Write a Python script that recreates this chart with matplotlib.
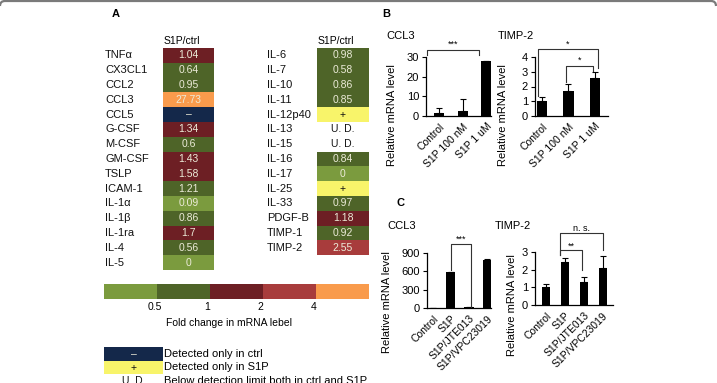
import numpy as np
import matplotlib
matplotlib.use("Agg")
import matplotlib.pyplot as plt
from matplotlib.colors import ListedColormap, BoundaryNorm
from matplotlib.path import Path
from matplotlib.patches import PathPatch

plt.rcParams['font.family'] = ['Liberation Sans', 'DejaVu Sans']

# ---- panel A: fold change S1P/ctrl ----
left_names = ["TNFα", "CX3CL1", "CCL2", "CCL3", "CCL5", "G-CSF", "M-CSF", "GM-CSF",
              "TSLP", "ICAM-1", "IL-1α", "IL-1β", "IL-1ra", "IL-4", "IL-5"]
left_vals = ["1.04", "0.64", "0.95", "27.73", "–", "1.34", "0.6", "1.43",
             "1.58", "1.21", "0.09", "0.86", "1.7", "0.56", "0"]
left_bins = [2, 1, 1, 4, 5, 2, 1, 2, 2, 1, 0, 1, 2, 1, 0]
right_names = ["IL-6", "IL-7", "IL-10", "IL-11", "IL-12p40", "IL-13", "IL-15", "IL-16",
               "IL-17", "IL-25", "IL-33", "PDGF-B", "TIMP-1", "TIMP-2"]
right_vals = ["0.98", "0.58", "0.86", "0.85", "+", "U. D.", "U. D.", "0.84",
              "0", "+", "0.97", "1.18", "0.92", "2.55"]
right_bins = [1, 1, 1, 1, 6, -1, -1, 1, 0, 6, 1, 2, 1, 3]
scale_ticks = ["0.5", "1", "2", "4"]
legend_keys = ["–", "+", "U. D."]
legend_text = ["Detected only in ctrl", "Detected only in S1P",
               "Below detection limit both in ctrl and S1P"]

# ---- panel B ----
b_groups = ["Control", "S1P 100 nM", "S1P 1 uM"]
b_ccl3 = [1.3, 2.5, 27.8]
b_ccl3_err = [2.6, 6.1, 0.4]
b_timp2 = [1.04, 1.72, 2.6]
b_timp2_err = [0.23, 0.43, 0.4]

# ---- panel C ----
c_groups = ["Control", "S1P", "S1P/JTE013", "S1P/VPC23019"]
c_ccl3 = [2, 584, 12, 790]
c_ccl3_err = [1, 8, 3, 6]
c_timp2 = [1.0, 2.45, 1.32, 2.08]
c_timp2_err = [0.17, 0.19, 0.25, 0.69]

COLORS = ["#7b9b3e", "#4e6428", "#6d1f24", "#a83c3c", "#f99b4c", "#14284a", "#f8f46a"]
cmap = ListedColormap(COLORS)
norm = BoundaryNorm(np.arange(-0.5, 7.5, 1), cmap.N)

W, H = 717, 383
fig = plt.figure(figsize=(W / 100, H / 100), dpi=100, facecolor="white")


def ax_px(l, t, r, b):
    return fig.add_axes([l / W, 1 - b / H, (r - l) / W, (b - t) / H])


def ftext(x, y, s, **kw):
    fig.text(x / W, 1 - y / H, s, **kw)


# frame line at the top
verts = [(0, 6), (0, 1), (5, 1), (711, 1), (716, 1), (716, 6)]
codes = [Path.MOVETO, Path.CURVE3, Path.CURVE3, Path.LINETO, Path.CURVE3, Path.CURVE3]
verts = [(x / W, 1 - y / H) for x, y in verts]
fig.add_artist(PathPatch(Path(verts, codes), fc="none", ec="#7a7a7a", lw=1.6,
                         transform=fig.transFigure))

ftext(112, 14, "A", fontsize=8, weight="bold", ha="left", va="center")
ftext(382, 14, "B", fontsize=8, weight="bold", ha="left", va="center")
ftext(397, 203, "C", fontsize=8, weight="bold", ha="left", va="center")


def heat_column(ax, names, vals, bins, label_off):
    n = len(names)
    data = np.ma.masked_less(np.array(bins, dtype=float).reshape(-1, 1), 0)
    ax.pcolormesh(data, cmap=cmap, norm=norm)
    ax.set_xlim(0, 1)
    ax.set_ylim(n, 0)
    ax.axis("off")
    for i in range(n):
        ax.text(-label_off, i + 0.5, names[i], ha="left", va="center", fontsize=8,
                color="#111")
        b = bins[i]
        c = "#111" if b in (-1, 6) else "#ecebd8"
        ax.text(0.5, i + 0.5, vals[i], ha="center", va="center", fontsize=7.5, color=c)
    ax.text(0.37, -0.5, "S1P/ctrl", ha="center", va="center", fontsize=7.5)


axl = ax_px(163, 48, 214, 48 + 14.8 * len(left_names))
heat_column(axl, left_names, left_vals, left_bins, 58 / 51)
axr = ax_px(317, 48, 369, 48 + 14.8 * len(right_names))
heat_column(axr, right_names, right_vals, right_bins, 50 / 52)

# colour scale bar
axs = ax_px(104, 284, 369, 299)
axs.pcolormesh(np.arange(5).reshape(1, -1), cmap=cmap, norm=norm)
axs.set_xlim(0, 5)
axs.axis("off")
for k, t in enumerate(scale_ticks):
    axs.text(k + 1 - 0.05, -0.55, t, ha="center", va="center", fontsize=7.5)
axs.text(2.35, -1.6, "Fold change in mRNA lebel", ha="center", va="center", fontsize=7.5)

# key (third row runs off the bottom edge, as in the original)
axk = ax_px(104, 347, 163, 388)
axk.pcolormesh(np.ma.masked_less(np.array([[5], [6], [-1]], dtype=float), 0),
               cmap=cmap, norm=norm)
axk.set_xlim(0, 1)
axk.set_ylim(3, 0)
axk.axis("off")
for i, (k, t) in enumerate(zip(legend_keys, legend_text)):
    axk.text(0.5, i + 0.5, k, ha="center", va="center", fontsize=7.5,
             color="#ecebd8" if i == 0 else "#111")
    axk.text(1.02, i + 0.5, t, ha="left", va="center", fontsize=8)


def bar_panel(ax, groups, vals, errs, ymax, yticks, xlim, width):
    x = np.arange(len(groups))
    ax.bar(x, vals, width=width, color="black")
    ax.errorbar(x, vals, yerr=[np.zeros(len(vals)), errs], fmt="none", ecolor="black",
                elinewidth=0.8, capsize=2, capthick=0.8)
    ax.set_xlim(*xlim)
    ax.set_ylim(0, ymax)
    ax.set_yticks(yticks)
    ax.set_xticks(x)
    ax.set_xticklabels(groups, rotation=45, ha="right", rotation_mode="anchor",
                       fontsize=7.5)
    ax.tick_params(axis="x", length=0, pad=4)
    ax.tick_params(axis="y", length=3, width=0.8, labelsize=8, pad=2)
    for s in ("top", "right"):
        ax.spines[s].set_visible(False)
    for s in ("left", "bottom"):
        ax.spines[s].set_linewidth(0.9)


def bracket(ax, x0, x1, y, y0, y1, label, dy):
    ax.plot([x0, x0, x1, x1], [y0, y, y, y1], color="#333", lw=0.8, clip_on=False)
    ax.text((x0 + x1) / 2, y + dy, label, ha="center", va="bottom", fontsize=6.5,
            clip_on=False)


# B
ax1 = ax_px(426, 57, 491, 116)
bar_panel(ax1, b_groups, b_ccl3, b_ccl3_err, 30, [0, 10, 20, 30], (-0.55, 2.2), 0.42)
bracket(ax1, -0.5, 1.7, 33.8, 31, 31, "***", 0.3)
ax2 = ax_px(535, 57, 608, 116)
bar_panel(ax2, b_groups, b_timp2, b_timp2_err, 4, [0, 1, 2, 3, 4], (-0.26, 2.49), 0.4)
bracket(ax2, -0.15, 2.1, 4.52, 1.35, 3.25, "*", 0.05)
bracket(ax2, 0.9, 1.93, 3.4, 2.3, 3.05, "*", 0.05)

# C
ax3 = ax_px(427, 253, 491, 308)
bar_panel(ax3, c_groups, c_ccl3, c_ccl3_err, 900, [0, 300, 600, 900], (-0.33, 3.22), 0.5)
bracket(ax3, 1.0, 2.1, 1042, 620, 10, "***", 5)
ax4 = ax_px(535, 252, 613, 305)
bar_panel(ax4, c_groups, c_timp2, c_timp2_err, 3, [0, 1, 2, 3], (-0.58, 3.53), 0.4)
bracket(ax4, 0.74, 1.9, 3.1, 2.83, 1.98, "**", -0.05)
bracket(ax4, 0.74, 3.0, 4.05, 2.83, 3.1, "n. s.", 0.02)

for x, y, t in [(386, 36, "CCL3"), (498, 36, "TIMP-2"), (387, 226, "CCL3"), (495, 226, "TIMP-2")]:
    ftext(x, y, t, fontsize=8, ha="left", va="center")
for x, y in [(392, 115), (503, 115), (387, 302), (512, 305)]:
    ftext(x, y, "Relative mRNA level", fontsize=8, rotation=90, ha="center", va="center")

fig.savefig("out.png", dpi=100, facecolor="white")
